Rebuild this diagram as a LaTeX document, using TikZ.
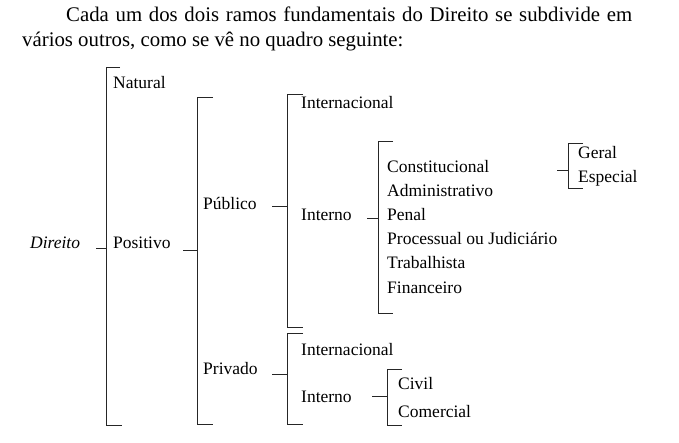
\documentclass[tikz,border=0pt]{standalone}
\usepackage{fontspec}
\setmainfont{Liberation Serif}
\usetikzlibrary{positioning}

\begin{document}
\begin{tikzpicture}[
    x=1pt, y=-1pt,
    font=\fontsize{17.5}{22}\selectfont,
    item/.style={anchor=base west, inner sep=0pt},
    chave/.style={line width=0.7pt, draw=black!85}
]
\useasboundingbox (0,0) rectangle (679,443);

\node[anchor=north west, inner sep=0pt, text width=610pt, align=justify,
      font=\fontsize{20.8}{25}\selectfont] (intro) at (22,7)
  {\hspace*{44pt}Cada um dos dois ramos fundamentais do Direito se subdivide em\linebreak
   vários outros, como se vê no quadro seguinte:};

\node[item] (dir) at (30,249) {\textit{Direito}};
\node[item] (nat) at (113,89) {Natural};
\node[item] (pos) at (113,249) {Positivo};
\node[item] (pub) at (203,210) {Público};
\node[item] (priv) at (203,374) {Privado};
\node[item] (pubint) at (301,109) {Internacional};
\node[item] (pubinterno) at (301,221) {Interno};
\node[item] (const) at (387,173) {Constitucional};
\node[item] (adm) at (387,197) {Administrativo};
\node[item] (pen) at (387,221) {Penal};
\node[item] (proc) at (387,245) {Processual ou Judiciário};
\node[item] (trab) at (387,269) {Trabalhista};
\node[item] (fin) at (387,293) {Financeiro};
\node[item] (ger) at (578,159) {Geral};
\node[item] (esp) at (578,183) {Especial};
\node[item] (privint) at (301,355) {Internacional};
\node[item] (privinterno) at (301,402) {Interno};
\node[item] (civ) at (398,389) {Civil};
\node[item] (com) at (398,417) {Comercial};

\coordinate (dirT) at (106,67);
\coordinate (dirB) at (106,425);
\coordinate (dirM) at (106,248);
\coordinate (posT) at (197,97);
\coordinate (posB) at (197,424);
\coordinate (posM) at (197,250);
\coordinate (pubT) at (287,94);
\coordinate (pubB) at (287,327);
\coordinate (pubM) at (287,206);
\coordinate (intT) at (378,141);
\coordinate (intB) at (378,313);
\coordinate (intM) at (378,218);
\coordinate (constT) at (568,143);
\coordinate (constB) at (568,188);
\coordinate (constM) at (568,170);
\coordinate (privT) at (287,333);
\coordinate (privB) at (287,424);
\coordinate (privM) at (287,374);
\coordinate (pintT) at (387,369);
\coordinate (pintB) at (387,425);
\coordinate (pintM) at (387,396);

\draw[chave] ([xshift=14pt]dirT) -- (dirT) -- (dirB) -- ++(16,0);
\draw[chave] (dirM) -- ++(-10,0);
\draw[chave] ([xshift=16pt]posT) -- (posT) -- (posB) -- ++(16,0);
\draw[chave] (posM) -- ++(-14,0);
\draw[chave] ([xshift=16pt]pubT) -- (pubT) -- (pubB) -- ++(16,0);
\draw[chave] (pubM) -- ++(-15,0);
\draw[chave] ([xshift=15pt]intT) -- (intT) -- (intB) -- ++(15,0);
\draw[chave] (intM) -- ++(-11,0);
\draw[chave] ([xshift=15pt]constT) -- (constT) -- (constB) -- ++(15,0);
\draw[chave] (constM) -- ++(-11,0);
\draw[chave] ([xshift=16pt]privT) -- (privT) -- (privB) -- ++(16,0);
\draw[chave] (privM) -- ++(-15,0);
\draw[chave] ([xshift=15pt]pintT) -- (pintT) -- (pintB) -- ++(15,0);
\draw[chave] (pintM) -- ++(-15,0);
\end{tikzpicture}
\end{document}
